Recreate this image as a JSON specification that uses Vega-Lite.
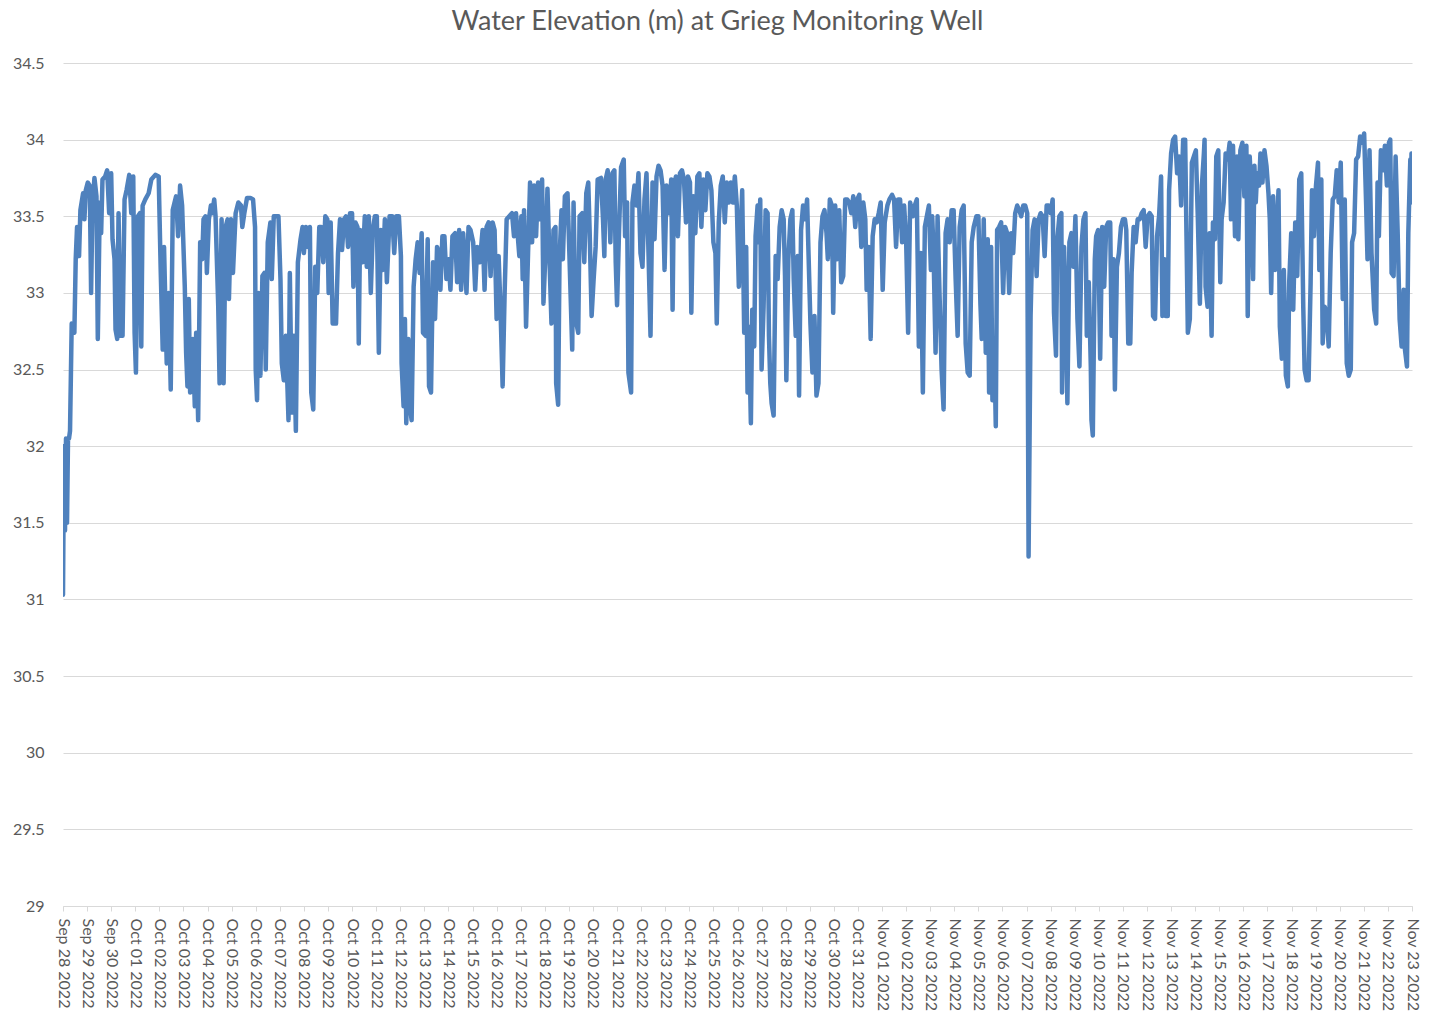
{
"$schema":"https://vega.github.io/schema/vega-lite/v6.json",
"autosize":{"type":"none"},
"padding":{"left":63,"top":63,"right":20,"bottom":107},
"width":1349,"height":843,
"background":"white",
"config":{"view":{"stroke":null},"font":"Lato"},
"title":{"text":"Water Elevation (m) at Grieg Monitoring Well","fontSize":27,"font":"Lato","fontWeight":"normal","color":"#595959","anchor":"middle","offset":19,"dx":-20},
"data":{"values":[
{"t":"2022-09-28T00:00","v":31.03},{"t":"2022-09-28T01:00","v":32.0},{"t":"2022-09-28T02:00","v":31.45},{"t":"2022-09-28T03:00","v":32.05},{"t":"2022-09-28T04:00","v":31.5},{"t":"2022-09-28T05:00","v":32.05},{"t":"2022-09-28T06:00","v":32.05},{"t":"2022-09-28T07:00","v":32.1},{"t":"2022-09-28T08:40","v":32.8},{"t":"2022-09-28T11:20","v":32.74},{"t":"2022-09-28T12:40","v":33.22},{"t":"2022-09-28T14:00","v":33.43},{"t":"2022-09-28T16:00","v":33.24},{"t":"2022-09-28T17:20","v":33.54},{"t":"2022-09-28T20:00","v":33.65},{"t":"2022-09-28T21:20","v":33.48},{"t":"2022-09-28T22:40","v":33.67},
{"t":"2022-09-29T00:40","v":33.72},{"t":"2022-09-29T02:40","v":33.7},{"t":"2022-09-29T04:00","v":33.0},{"t":"2022-09-29T05:20","v":33.57},{"t":"2022-09-29T07:20","v":33.75},{"t":"2022-09-29T09:20","v":33.63},{"t":"2022-09-29T10:40","v":32.7},{"t":"2022-09-29T12:40","v":33.59},{"t":"2022-09-29T14:00","v":33.39},{"t":"2022-09-29T15:20","v":33.74},{"t":"2022-09-29T18:00","v":33.76},{"t":"2022-09-29T20:00","v":33.8},{"t":"2022-09-29T22:00","v":33.52},
{"t":"2022-09-30T00:00","v":33.78},{"t":"2022-09-30T01:20","v":33.35},{"t":"2022-09-30T03:20","v":33.22},{"t":"2022-09-30T04:20","v":32.76},{"t":"2022-09-30T06:00","v":32.7},{"t":"2022-09-30T07:20","v":33.52},{"t":"2022-09-30T09:20","v":32.72},{"t":"2022-09-30T11:20","v":32.72},{"t":"2022-09-30T13:20","v":33.61},{"t":"2022-09-30T15:20","v":33.67},{"t":"2022-09-30T18:00","v":33.77},{"t":"2022-09-30T20:00","v":33.52},{"t":"2022-09-30T22:00","v":33.76},{"t":"2022-09-30T23:20","v":32.74},
{"t":"2022-10-01T00:40","v":32.48},{"t":"2022-10-01T02:40","v":33.5},{"t":"2022-10-01T04:40","v":33.52},{"t":"2022-10-01T06:00","v":32.65},{"t":"2022-10-01T07:20","v":33.57},{"t":"2022-10-01T10:00","v":33.61},{"t":"2022-10-01T13:20","v":33.65},{"t":"2022-10-01T16:00","v":33.74},{"t":"2022-10-01T20:00","v":33.77},{"t":"2022-10-01T23:20","v":33.76},
{"t":"2022-10-02T01:20","v":33.15},{"t":"2022-10-02T03:20","v":32.63},{"t":"2022-10-02T04:40","v":33.3},{"t":"2022-10-02T07:20","v":32.54},{"t":"2022-10-02T09:20","v":33.0},{"t":"2022-10-02T11:20","v":32.37},{"t":"2022-10-02T13:20","v":33.54},{"t":"2022-10-02T16:40","v":33.63},{"t":"2022-10-02T18:40","v":33.37},{"t":"2022-10-02T20:40","v":33.7},{"t":"2022-10-02T22:40","v":33.57},
{"t":"2022-10-03T01:20","v":33.04},{"t":"2022-10-03T02:40","v":32.61},{"t":"2022-10-03T04:00","v":32.39},{"t":"2022-10-03T05:20","v":32.96},{"t":"2022-10-03T06:40","v":32.35},{"t":"2022-10-03T09:20","v":32.7},{"t":"2022-10-03T11:20","v":32.26},{"t":"2022-10-03T12:40","v":32.74},{"t":"2022-10-03T14:40","v":32.17},{"t":"2022-10-03T16:40","v":33.33},{"t":"2022-10-03T18:40","v":33.22},{"t":"2022-10-03T20:00","v":33.48},{"t":"2022-10-03T22:00","v":33.5},{"t":"2022-10-03T23:20","v":33.13},
{"t":"2022-10-04T01:20","v":33.48},{"t":"2022-10-04T03:20","v":33.57},{"t":"2022-10-04T04:40","v":33.52},{"t":"2022-10-04T06:40","v":33.61},{"t":"2022-10-04T08:00","v":33.5},{"t":"2022-10-04T10:40","v":32.91},{"t":"2022-10-04T12:00","v":32.41},{"t":"2022-10-04T14:00","v":33.48},{"t":"2022-10-04T16:00","v":32.41},{"t":"2022-10-04T18:00","v":33.43},{"t":"2022-10-04T20:00","v":33.48},{"t":"2022-10-04T21:20","v":32.96},{"t":"2022-10-04T23:20","v":33.48},
{"t":"2022-10-05T01:20","v":33.13},{"t":"2022-10-05T04:00","v":33.52},{"t":"2022-10-05T06:40","v":33.59},{"t":"2022-10-05T09:20","v":33.57},{"t":"2022-10-05T10:40","v":33.43},{"t":"2022-10-05T12:40","v":33.52},{"t":"2022-10-05T15:20","v":33.62},{"t":"2022-10-05T18:40","v":33.62},{"t":"2022-10-05T21:20","v":33.61},{"t":"2022-10-05T23:20","v":33.43},
{"t":"2022-10-06T00:00","v":32.5},{"t":"2022-10-06T01:20","v":32.3},{"t":"2022-10-06T02:40","v":33.0},{"t":"2022-10-06T04:40","v":32.46},{"t":"2022-10-06T06:40","v":33.11},{"t":"2022-10-06T08:40","v":33.13},{"t":"2022-10-06T10:00","v":32.5},{"t":"2022-10-06T12:00","v":33.33},{"t":"2022-10-06T14:40","v":33.46},{"t":"2022-10-06T16:00","v":33.09},{"t":"2022-10-06T18:00","v":33.5},{"t":"2022-10-06T20:00","v":33.5},{"t":"2022-10-06T22:40","v":33.5},
{"t":"2022-10-07T00:40","v":33.09},{"t":"2022-10-07T02:00","v":32.54},{"t":"2022-10-07T04:00","v":32.43},{"t":"2022-10-07T06:00","v":32.72},{"t":"2022-10-07T08:40","v":32.17},{"t":"2022-10-07T10:00","v":33.13},{"t":"2022-10-07T12:00","v":32.22},{"t":"2022-10-07T14:00","v":32.72},{"t":"2022-10-07T16:00","v":32.1},{"t":"2022-10-07T18:00","v":33.2},{"t":"2022-10-07T20:40","v":33.35},{"t":"2022-10-07T22:40","v":33.43},
{"t":"2022-10-08T00:00","v":33.26},{"t":"2022-10-08T02:00","v":33.43},{"t":"2022-10-08T04:00","v":33.3},{"t":"2022-10-08T06:00","v":33.43},{"t":"2022-10-08T07:20","v":32.35},{"t":"2022-10-08T09:20","v":32.24},{"t":"2022-10-08T11:20","v":33.17},{"t":"2022-10-08T13:20","v":33.0},{"t":"2022-10-08T15:20","v":33.43},{"t":"2022-10-08T17:20","v":33.43},{"t":"2022-10-08T19:20","v":33.2},{"t":"2022-10-08T21:20","v":33.5},{"t":"2022-10-08T23:20","v":33.48},
{"t":"2022-10-09T00:40","v":33.0},{"t":"2022-10-09T02:40","v":33.46},{"t":"2022-10-09T04:40","v":32.8},{"t":"2022-10-09T08:00","v":32.8},{"t":"2022-10-09T10:00","v":33.26},{"t":"2022-10-09T12:00","v":33.48},{"t":"2022-10-09T14:00","v":33.28},{"t":"2022-10-09T16:00","v":33.48},{"t":"2022-10-09T18:00","v":33.5},{"t":"2022-10-09T20:00","v":33.3},{"t":"2022-10-09T22:00","v":33.52},
{"t":"2022-10-10T00:00","v":33.52},{"t":"2022-10-10T01:20","v":33.04},{"t":"2022-10-10T03:20","v":33.46},{"t":"2022-10-10T05:20","v":33.43},{"t":"2022-10-10T06:40","v":32.67},{"t":"2022-10-10T08:00","v":33.41},{"t":"2022-10-10T10:40","v":33.2},{"t":"2022-10-10T12:40","v":33.5},{"t":"2022-10-10T14:40","v":33.17},{"t":"2022-10-10T16:40","v":33.5},{"t":"2022-10-10T18:40","v":33.0},{"t":"2022-10-10T20:40","v":33.41},{"t":"2022-10-10T22:40","v":33.5},
{"t":"2022-10-11T00:40","v":33.5},{"t":"2022-10-11T02:40","v":32.61},{"t":"2022-10-11T04:40","v":33.41},{"t":"2022-10-11T06:40","v":33.15},{"t":"2022-10-11T08:40","v":33.48},{"t":"2022-10-11T10:40","v":33.07},{"t":"2022-10-11T13:20","v":33.5},{"t":"2022-10-11T16:00","v":33.5},{"t":"2022-10-11T18:00","v":33.26},{"t":"2022-10-11T20:00","v":33.5},{"t":"2022-10-11T22:40","v":33.5},
{"t":"2022-10-12T00:40","v":33.24},{"t":"2022-10-12T01:20","v":32.54},{"t":"2022-10-12T03:20","v":32.26},{"t":"2022-10-12T04:40","v":32.83},{"t":"2022-10-12T06:00","v":32.15},{"t":"2022-10-12T08:00","v":32.7},{"t":"2022-10-12T09:20","v":32.28},{"t":"2022-10-12T11:20","v":32.17},{"t":"2022-10-12T13:20","v":33.04},{"t":"2022-10-12T15:20","v":33.22},{"t":"2022-10-12T17:20","v":33.33},{"t":"2022-10-12T19:20","v":33.13},{"t":"2022-10-12T21:20","v":33.39},{"t":"2022-10-12T22:40","v":32.74},
{"t":"2022-10-13T01:20","v":32.72},{"t":"2022-10-13T03:20","v":33.35},{"t":"2022-10-13T04:40","v":32.39},{"t":"2022-10-13T06:40","v":32.35},{"t":"2022-10-13T08:40","v":33.2},{"t":"2022-10-13T10:40","v":32.83},{"t":"2022-10-13T12:40","v":33.3},{"t":"2022-10-13T14:40","v":33.26},{"t":"2022-10-13T16:00","v":33.02},{"t":"2022-10-13T18:00","v":33.37},{"t":"2022-10-13T20:00","v":33.37},{"t":"2022-10-13T22:00","v":33.09},
{"t":"2022-10-14T00:00","v":33.22},{"t":"2022-10-14T02:00","v":33.02},{"t":"2022-10-14T04:00","v":33.37},{"t":"2022-10-14T06:40","v":33.39},{"t":"2022-10-14T08:40","v":33.07},{"t":"2022-10-14T10:40","v":33.41},{"t":"2022-10-14T12:40","v":33.02},{"t":"2022-10-14T14:40","v":33.39},{"t":"2022-10-14T16:40","v":33.17},{"t":"2022-10-14T18:00","v":33.0},{"t":"2022-10-14T20:00","v":33.43},{"t":"2022-10-14T22:00","v":33.41},
{"t":"2022-10-15T00:40","v":33.33},{"t":"2022-10-15T02:40","v":33.02},{"t":"2022-10-15T04:40","v":33.3},{"t":"2022-10-15T07:20","v":33.2},{"t":"2022-10-15T10:00","v":33.41},{"t":"2022-10-15T12:00","v":33.02},{"t":"2022-10-15T14:00","v":33.43},{"t":"2022-10-15T16:00","v":33.46},{"t":"2022-10-15T18:00","v":33.11},{"t":"2022-10-15T20:00","v":33.46},{"t":"2022-10-15T22:00","v":33.41},
{"t":"2022-10-16T00:00","v":32.83},{"t":"2022-10-16T02:00","v":33.24},{"t":"2022-10-16T04:00","v":32.87},{"t":"2022-10-16T06:00","v":32.39},{"t":"2022-10-16T08:00","v":33.0},{"t":"2022-10-16T10:00","v":33.48},{"t":"2022-10-16T12:40","v":33.5},{"t":"2022-10-16T15:20","v":33.52},{"t":"2022-10-16T17:20","v":33.37},{"t":"2022-10-16T19:20","v":33.52},{"t":"2022-10-16T22:40","v":33.24},
{"t":"2022-10-17T00:40","v":33.5},{"t":"2022-10-17T02:00","v":33.09},{"t":"2022-10-17T03:20","v":33.54},{"t":"2022-10-17T05:20","v":32.78},{"t":"2022-10-17T07:20","v":33.26},{"t":"2022-10-17T09:20","v":33.72},{"t":"2022-10-17T11:20","v":33.33},{"t":"2022-10-17T13:20","v":33.7},{"t":"2022-10-17T15:20","v":33.37},{"t":"2022-10-17T17:20","v":33.72},{"t":"2022-10-17T19:20","v":33.48},{"t":"2022-10-17T21:20","v":33.74},{"t":"2022-10-17T22:40","v":32.93},
{"t":"2022-10-18T00:40","v":33.26},{"t":"2022-10-18T02:40","v":33.68},{"t":"2022-10-18T04:40","v":33.22},{"t":"2022-10-18T06:40","v":32.8},{"t":"2022-10-18T08:40","v":33.41},{"t":"2022-10-18T10:40","v":33.43},{"t":"2022-10-18T11:20","v":32.41},{"t":"2022-10-18T13:20","v":32.27},{"t":"2022-10-18T14:40","v":33.22},{"t":"2022-10-18T16:40","v":33.54},{"t":"2022-10-18T18:00","v":33.22},{"t":"2022-10-18T20:00","v":33.63},{"t":"2022-10-18T22:40","v":33.65},
{"t":"2022-10-19T00:40","v":33.22},{"t":"2022-10-19T03:20","v":32.63},{"t":"2022-10-19T04:40","v":33.59},{"t":"2022-10-19T06:40","v":32.83},{"t":"2022-10-19T09:20","v":32.74},{"t":"2022-10-19T10:40","v":33.5},{"t":"2022-10-19T13:20","v":33.52},{"t":"2022-10-19T15:20","v":33.2},{"t":"2022-10-19T17:20","v":33.65},{"t":"2022-10-19T19:20","v":33.72},{"t":"2022-10-19T20:40","v":33.41},{"t":"2022-10-19T22:40","v":32.85},
{"t":"2022-10-20T00:40","v":33.09},{"t":"2022-10-20T02:40","v":33.3},{"t":"2022-10-20T04:40","v":33.74},{"t":"2022-10-20T08:00","v":33.75},{"t":"2022-10-20T10:00","v":33.48},{"t":"2022-10-20T11:20","v":33.24},{"t":"2022-10-20T12:40","v":33.74},{"t":"2022-10-20T14:40","v":33.8},{"t":"2022-10-20T17:20","v":33.33},{"t":"2022-10-20T19:20","v":33.78},{"t":"2022-10-20T21:20","v":33.8},{"t":"2022-10-20T22:40","v":33.2},
{"t":"2022-10-21T00:00","v":32.92},{"t":"2022-10-21T02:00","v":33.41},{"t":"2022-10-21T04:00","v":33.82},{"t":"2022-10-21T06:40","v":33.87},{"t":"2022-10-21T08:00","v":33.37},{"t":"2022-10-21T10:00","v":33.59},{"t":"2022-10-21T11:20","v":32.48},{"t":"2022-10-21T14:00","v":32.35},{"t":"2022-10-21T15:20","v":33.59},{"t":"2022-10-21T17:20","v":33.7},{"t":"2022-10-21T19:20","v":33.57},{"t":"2022-10-21T21:20","v":33.78},{"t":"2022-10-21T23:20","v":33.26},
{"t":"2022-10-22T01:20","v":33.17},{"t":"2022-10-22T03:20","v":33.61},{"t":"2022-10-22T05:20","v":33.78},{"t":"2022-10-22T07:20","v":33.26},{"t":"2022-10-22T09:20","v":32.72},{"t":"2022-10-22T11:20","v":33.72},{"t":"2022-10-22T13:20","v":33.35},{"t":"2022-10-22T15:20","v":33.76},{"t":"2022-10-22T17:20","v":33.83},{"t":"2022-10-22T19:20","v":33.8},{"t":"2022-10-22T21:20","v":33.7},{"t":"2022-10-22T23:20","v":33.15},
{"t":"2022-10-23T01:20","v":33.7},{"t":"2022-10-23T04:00","v":33.52},{"t":"2022-10-23T06:00","v":33.74},{"t":"2022-10-23T07:20","v":32.89},{"t":"2022-10-23T08:40","v":33.7},{"t":"2022-10-23T10:40","v":33.76},{"t":"2022-10-23T12:40","v":33.37},{"t":"2022-10-23T14:40","v":33.78},{"t":"2022-10-23T16:40","v":33.8},{"t":"2022-10-23T18:40","v":33.74},{"t":"2022-10-23T20:40","v":33.46},{"t":"2022-10-23T22:40","v":33.76},
{"t":"2022-10-24T00:40","v":33.72},{"t":"2022-10-24T02:00","v":32.87},{"t":"2022-10-24T04:00","v":33.63},{"t":"2022-10-24T06:00","v":33.39},{"t":"2022-10-24T08:00","v":33.76},{"t":"2022-10-24T10:00","v":33.78},{"t":"2022-10-24T12:00","v":33.43},{"t":"2022-10-24T14:00","v":33.74},{"t":"2022-10-24T16:00","v":33.54},{"t":"2022-10-24T18:00","v":33.78},{"t":"2022-10-24T20:00","v":33.76},{"t":"2022-10-24T22:00","v":33.67},
{"t":"2022-10-25T00:00","v":33.33},{"t":"2022-10-25T02:00","v":33.26},{"t":"2022-10-25T03:20","v":32.8},{"t":"2022-10-25T05:20","v":33.46},{"t":"2022-10-25T07:20","v":33.7},{"t":"2022-10-25T09:20","v":33.76},{"t":"2022-10-25T11:20","v":33.46},{"t":"2022-10-25T13:20","v":33.72},{"t":"2022-10-25T15:20","v":33.59},{"t":"2022-10-25T17:20","v":33.72},{"t":"2022-10-25T19:20","v":33.59},{"t":"2022-10-25T21:20","v":33.76},{"t":"2022-10-25T23:20","v":33.57},
{"t":"2022-10-26T01:20","v":33.04},{"t":"2022-10-26T02:40","v":33.3},{"t":"2022-10-26T04:40","v":33.67},{"t":"2022-10-26T06:40","v":32.74},{"t":"2022-10-26T08:40","v":33.3},{"t":"2022-10-26T10:00","v":32.35},{"t":"2022-10-26T11:20","v":32.78},{"t":"2022-10-26T13:20","v":32.15},{"t":"2022-10-26T14:40","v":32.89},{"t":"2022-10-26T16:40","v":32.65},{"t":"2022-10-26T18:00","v":33.37},{"t":"2022-10-26T20:00","v":33.57},{"t":"2022-10-26T21:20","v":33.33},{"t":"2022-10-26T22:40","v":33.61},
{"t":"2022-10-27T00:00","v":32.5},{"t":"2022-10-27T02:00","v":32.91},{"t":"2022-10-27T04:00","v":33.54},{"t":"2022-10-27T06:00","v":33.52},{"t":"2022-10-27T07:20","v":32.72},{"t":"2022-10-27T08:40","v":32.41},{"t":"2022-10-27T10:00","v":32.28},{"t":"2022-10-27T12:00","v":32.2},{"t":"2022-10-27T14:00","v":33.24},{"t":"2022-10-27T16:00","v":33.09},{"t":"2022-10-27T18:00","v":33.43},{"t":"2022-10-27T20:00","v":33.54},{"t":"2022-10-27T22:00","v":33.48},{"t":"2022-10-27T23:20","v":33.11},
{"t":"2022-10-28T00:40","v":32.43},{"t":"2022-10-28T02:40","v":33.22},{"t":"2022-10-28T04:40","v":33.48},{"t":"2022-10-28T06:40","v":33.54},{"t":"2022-10-28T08:00","v":33.09},{"t":"2022-10-28T10:00","v":32.72},{"t":"2022-10-28T12:00","v":33.24},{"t":"2022-10-28T13:20","v":32.33},{"t":"2022-10-28T15:20","v":33.41},{"t":"2022-10-28T17:20","v":33.57},{"t":"2022-10-28T19:20","v":33.48},{"t":"2022-10-28T21:20","v":33.61},{"t":"2022-10-28T22:40","v":33.28},
{"t":"2022-10-29T00:40","v":32.8},{"t":"2022-10-29T02:40","v":32.48},{"t":"2022-10-29T04:40","v":32.85},{"t":"2022-10-29T06:40","v":32.33},{"t":"2022-10-29T08:40","v":32.41},{"t":"2022-10-29T10:40","v":33.33},{"t":"2022-10-29T12:40","v":33.5},{"t":"2022-10-29T14:40","v":33.54},{"t":"2022-10-29T16:40","v":33.39},{"t":"2022-10-29T18:00","v":33.22},{"t":"2022-10-29T20:00","v":33.61},{"t":"2022-10-29T22:00","v":33.57},{"t":"2022-10-29T23:20","v":32.87},
{"t":"2022-10-30T01:20","v":33.57},{"t":"2022-10-30T03:20","v":33.22},{"t":"2022-10-30T05:20","v":33.54},{"t":"2022-10-30T07:20","v":33.07},{"t":"2022-10-30T09:20","v":33.11},{"t":"2022-10-30T11:20","v":33.61},{"t":"2022-10-30T13:20","v":33.61},{"t":"2022-10-30T15:20","v":33.59},{"t":"2022-10-30T17:20","v":33.52},{"t":"2022-10-30T19:20","v":33.63},{"t":"2022-10-30T21:20","v":33.43},{"t":"2022-10-30T23:20","v":33.61},
{"t":"2022-10-31T01:20","v":33.64},{"t":"2022-10-31T03:20","v":33.3},{"t":"2022-10-31T05:20","v":33.59},{"t":"2022-10-31T07:20","v":33.48},{"t":"2022-10-31T08:40","v":33.02},{"t":"2022-10-31T10:40","v":33.3},{"t":"2022-10-31T12:40","v":32.7},{"t":"2022-10-31T14:40","v":33.37},{"t":"2022-10-31T16:40","v":33.48},{"t":"2022-10-31T18:40","v":33.46},{"t":"2022-10-31T20:40","v":33.52},{"t":"2022-10-31T22:40","v":33.59},
{"t":"2022-11-01T00:40","v":33.02},{"t":"2022-11-01T02:40","v":33.46},{"t":"2022-11-01T05:20","v":33.57},{"t":"2022-11-01T07:20","v":33.61},{"t":"2022-11-01T10:00","v":33.64},{"t":"2022-11-01T12:00","v":33.61},{"t":"2022-11-01T14:00","v":33.3},{"t":"2022-11-01T16:00","v":33.61},{"t":"2022-11-01T18:00","v":33.61},{"t":"2022-11-01T20:00","v":33.33},{"t":"2022-11-01T22:00","v":33.57},
{"t":"2022-11-02T00:00","v":33.35},{"t":"2022-11-02T02:00","v":32.74},{"t":"2022-11-02T04:00","v":33.59},{"t":"2022-11-02T06:40","v":33.5},{"t":"2022-11-02T08:40","v":33.57},{"t":"2022-11-02T10:40","v":33.61},{"t":"2022-11-02T12:40","v":32.65},{"t":"2022-11-02T14:40","v":33.26},{"t":"2022-11-02T16:40","v":32.35},{"t":"2022-11-02T18:40","v":33.43},{"t":"2022-11-02T20:40","v":33.5},{"t":"2022-11-02T22:40","v":33.57},
{"t":"2022-11-03T00:40","v":33.15},{"t":"2022-11-03T02:00","v":33.5},{"t":"2022-11-03T03:20","v":33.26},{"t":"2022-11-03T05:20","v":32.61},{"t":"2022-11-03T07:20","v":33.5},{"t":"2022-11-03T09:20","v":32.98},{"t":"2022-11-03T11:20","v":32.5},{"t":"2022-11-03T13:20","v":32.24},{"t":"2022-11-03T15:20","v":33.39},{"t":"2022-11-03T17:20","v":33.48},{"t":"2022-11-03T19:20","v":33.33},{"t":"2022-11-03T21:20","v":33.54},{"t":"2022-11-03T23:20","v":33.54},
{"t":"2022-11-04T01:20","v":33.09},{"t":"2022-11-04T03:20","v":32.72},{"t":"2022-11-04T05:20","v":33.43},{"t":"2022-11-04T07:20","v":33.54},{"t":"2022-11-04T09:20","v":33.57},{"t":"2022-11-04T11:20","v":32.67},{"t":"2022-11-04T13:20","v":32.48},{"t":"2022-11-04T15:20","v":32.46},{"t":"2022-11-04T17:20","v":33.33},{"t":"2022-11-04T19:20","v":33.43},{"t":"2022-11-04T22:00","v":33.5},
{"t":"2022-11-05T00:00","v":33.5},{"t":"2022-11-05T02:00","v":32.93},{"t":"2022-11-05T03:20","v":32.7},{"t":"2022-11-05T05:20","v":33.48},{"t":"2022-11-05T07:20","v":32.61},{"t":"2022-11-05T09:20","v":33.35},{"t":"2022-11-05T10:40","v":32.35},{"t":"2022-11-05T12:40","v":33.3},{"t":"2022-11-05T14:00","v":32.3},{"t":"2022-11-05T16:00","v":32.61},{"t":"2022-11-05T17:20","v":32.13},{"t":"2022-11-05T18:40","v":33.41},{"t":"2022-11-05T20:40","v":33.43},{"t":"2022-11-05T22:40","v":33.46},
{"t":"2022-11-06T00:40","v":33.0},{"t":"2022-11-06T02:40","v":33.43},{"t":"2022-11-06T04:40","v":33.39},{"t":"2022-11-06T06:40","v":33.0},{"t":"2022-11-06T08:40","v":33.39},{"t":"2022-11-06T10:40","v":33.26},{"t":"2022-11-06T12:40","v":33.52},{"t":"2022-11-06T14:40","v":33.57},{"t":"2022-11-06T16:40","v":33.54},{"t":"2022-11-06T18:40","v":33.5},{"t":"2022-11-06T20:40","v":33.57},{"t":"2022-11-06T22:40","v":33.57},
{"t":"2022-11-07T00:40","v":33.52},{"t":"2022-11-07T02:00","v":31.28},{"t":"2022-11-07T04:00","v":32.85},{"t":"2022-11-07T06:00","v":33.41},{"t":"2022-11-07T08:00","v":33.48},{"t":"2022-11-07T10:00","v":33.11},{"t":"2022-11-07T12:00","v":33.48},{"t":"2022-11-07T14:00","v":33.52},{"t":"2022-11-07T16:00","v":33.5},{"t":"2022-11-07T18:00","v":33.24},{"t":"2022-11-07T20:00","v":33.57},{"t":"2022-11-07T22:00","v":33.57},
{"t":"2022-11-08T00:00","v":33.52},{"t":"2022-11-08T02:00","v":33.61},{"t":"2022-11-08T03:20","v":32.87},{"t":"2022-11-08T05:20","v":32.59},{"t":"2022-11-08T06:40","v":33.35},{"t":"2022-11-08T08:40","v":33.5},{"t":"2022-11-08T10:40","v":33.52},{"t":"2022-11-08T11:20","v":32.35},{"t":"2022-11-08T13:20","v":33.3},{"t":"2022-11-08T15:20","v":32.83},{"t":"2022-11-08T16:40","v":32.28},{"t":"2022-11-08T18:40","v":33.33},{"t":"2022-11-08T20:40","v":33.39},{"t":"2022-11-08T22:40","v":33.17},
{"t":"2022-11-09T00:40","v":33.5},{"t":"2022-11-09T02:40","v":32.83},{"t":"2022-11-09T04:40","v":32.52},{"t":"2022-11-09T06:40","v":33.3},{"t":"2022-11-09T08:40","v":33.48},{"t":"2022-11-09T10:40","v":33.52},{"t":"2022-11-09T12:00","v":32.72},{"t":"2022-11-09T14:00","v":33.07},{"t":"2022-11-09T16:00","v":32.52},{"t":"2022-11-09T16:40","v":32.17},{"t":"2022-11-09T18:00","v":32.07},{"t":"2022-11-09T20:00","v":33.22},{"t":"2022-11-09T21:20","v":33.37},{"t":"2022-11-09T23:20","v":33.41},
{"t":"2022-11-10T01:20","v":32.57},{"t":"2022-11-10T03:20","v":33.43},{"t":"2022-11-10T05:20","v":33.04},{"t":"2022-11-10T07:20","v":33.43},{"t":"2022-11-10T09:20","v":33.46},{"t":"2022-11-10T11:20","v":33.46},{"t":"2022-11-10T12:40","v":32.72},{"t":"2022-11-10T14:40","v":33.22},{"t":"2022-11-10T16:00","v":32.37},{"t":"2022-11-10T18:00","v":33.17},{"t":"2022-11-10T20:00","v":33.26},{"t":"2022-11-10T22:00","v":33.43},
{"t":"2022-11-11T00:00","v":33.48},{"t":"2022-11-11T02:00","v":33.48},{"t":"2022-11-11T03:20","v":33.41},{"t":"2022-11-11T05:20","v":32.67},{"t":"2022-11-11T07:20","v":32.67},{"t":"2022-11-11T08:40","v":33.13},{"t":"2022-11-11T10:40","v":33.43},{"t":"2022-11-11T12:40","v":33.33},{"t":"2022-11-11T14:40","v":33.48},{"t":"2022-11-11T16:40","v":33.48},{"t":"2022-11-11T18:40","v":33.52},{"t":"2022-11-11T20:40","v":33.54},{"t":"2022-11-11T22:40","v":33.3},
{"t":"2022-11-12T00:40","v":33.5},{"t":"2022-11-12T02:40","v":33.52},{"t":"2022-11-12T04:40","v":33.5},{"t":"2022-11-12T06:00","v":32.85},{"t":"2022-11-12T08:00","v":32.83},{"t":"2022-11-12T10:00","v":33.37},{"t":"2022-11-12T12:00","v":33.5},{"t":"2022-11-12T14:00","v":33.76},{"t":"2022-11-12T15:20","v":32.85},{"t":"2022-11-12T17:20","v":33.22},{"t":"2022-11-12T18:40","v":32.85},{"t":"2022-11-12T20:40","v":32.85},{"t":"2022-11-12T22:00","v":33.67},
{"t":"2022-11-13T00:00","v":33.91},{"t":"2022-11-13T02:00","v":34.0},{"t":"2022-11-13T04:00","v":34.02},{"t":"2022-11-13T06:00","v":33.78},{"t":"2022-11-13T08:00","v":33.89},{"t":"2022-11-13T10:00","v":33.57},{"t":"2022-11-13T12:00","v":34.0},{"t":"2022-11-13T14:00","v":34.0},{"t":"2022-11-13T15:20","v":33.37},{"t":"2022-11-13T16:40","v":32.74},{"t":"2022-11-13T18:40","v":32.83},{"t":"2022-11-13T20:40","v":33.85},{"t":"2022-11-13T22:40","v":33.89},
{"t":"2022-11-14T00:40","v":33.93},{"t":"2022-11-14T02:40","v":33.48},{"t":"2022-11-14T04:40","v":32.93},{"t":"2022-11-14T06:40","v":33.7},{"t":"2022-11-14T08:40","v":33.91},{"t":"2022-11-14T09:20","v":34.0},{"t":"2022-11-14T10:20","v":33.04},{"t":"2022-11-14T12:20","v":32.91},{"t":"2022-11-14T14:20","v":33.39},{"t":"2022-11-14T16:20","v":32.72},{"t":"2022-11-14T17:40","v":33.46},{"t":"2022-11-14T19:40","v":33.35},{"t":"2022-11-14T21:00","v":33.89},{"t":"2022-11-14T23:00","v":33.93},
{"t":"2022-11-15T01:00","v":33.07},{"t":"2022-11-15T02:20","v":33.48},{"t":"2022-11-15T04:20","v":33.59},{"t":"2022-11-15T06:20","v":33.91},{"t":"2022-11-15T08:20","v":33.87},{"t":"2022-11-15T10:20","v":33.98},{"t":"2022-11-15T11:40","v":33.48},{"t":"2022-11-15T13:40","v":33.96},{"t":"2022-11-15T15:40","v":33.37},{"t":"2022-11-15T17:40","v":33.89},{"t":"2022-11-15T19:00","v":33.35},{"t":"2022-11-15T21:00","v":33.93},{"t":"2022-11-15T23:00","v":33.98},
{"t":"2022-11-16T01:00","v":33.63},{"t":"2022-11-16T03:00","v":33.96},{"t":"2022-11-16T04:20","v":32.85},{"t":"2022-11-16T06:20","v":33.89},{"t":"2022-11-16T08:20","v":33.59},{"t":"2022-11-16T09:40","v":33.09},{"t":"2022-11-16T11:00","v":33.83},{"t":"2022-11-16T12:20","v":33.59},{"t":"2022-11-16T13:40","v":33.78},{"t":"2022-11-16T15:40","v":33.7},{"t":"2022-11-16T17:00","v":33.91},{"t":"2022-11-16T19:00","v":33.72},{"t":"2022-11-16T21:00","v":33.93},{"t":"2022-11-16T23:00","v":33.83},
{"t":"2022-11-17T01:00","v":33.65},{"t":"2022-11-17T02:20","v":33.48},{"t":"2022-11-17T03:40","v":33.0},{"t":"2022-11-17T05:40","v":33.63},{"t":"2022-11-17T07:40","v":33.15},{"t":"2022-11-17T09:00","v":33.35},{"t":"2022-11-17T11:00","v":33.67},{"t":"2022-11-17T12:20","v":32.78},{"t":"2022-11-17T14:20","v":32.57},{"t":"2022-11-17T16:20","v":33.15},{"t":"2022-11-17T18:20","v":32.46},{"t":"2022-11-17T20:20","v":32.39},{"t":"2022-11-17T21:40","v":33.07},{"t":"2022-11-17T23:40","v":33.39},
{"t":"2022-11-18T01:40","v":32.89},{"t":"2022-11-18T03:40","v":33.46},{"t":"2022-11-18T05:40","v":33.11},{"t":"2022-11-18T07:40","v":33.74},{"t":"2022-11-18T09:40","v":33.78},{"t":"2022-11-18T11:40","v":32.91},{"t":"2022-11-18T13:00","v":32.5},{"t":"2022-11-18T15:00","v":32.43},{"t":"2022-11-18T17:00","v":32.43},{"t":"2022-11-18T19:00","v":33.07},{"t":"2022-11-18T20:20","v":33.67},{"t":"2022-11-18T22:20","v":33.37},
{"t":"2022-11-19T00:20","v":33.7},{"t":"2022-11-19T02:20","v":33.85},{"t":"2022-11-19T03:40","v":33.15},{"t":"2022-11-19T05:40","v":33.74},{"t":"2022-11-19T07:00","v":32.67},{"t":"2022-11-19T09:00","v":32.91},{"t":"2022-11-19T11:00","v":32.87},{"t":"2022-11-19T13:00","v":32.65},{"t":"2022-11-19T15:00","v":33.26},{"t":"2022-11-19T17:00","v":33.61},{"t":"2022-11-19T19:00","v":33.63},{"t":"2022-11-19T21:00","v":33.8},{"t":"2022-11-19T23:00","v":33.59},
{"t":"2022-11-20T01:00","v":33.85},{"t":"2022-11-20T03:00","v":32.96},{"t":"2022-11-20T05:00","v":33.61},{"t":"2022-11-20T07:00","v":32.54},{"t":"2022-11-20T09:00","v":32.46},{"t":"2022-11-20T11:00","v":32.5},{"t":"2022-11-20T12:20","v":33.33},{"t":"2022-11-20T14:20","v":33.39},{"t":"2022-11-20T16:20","v":33.87},{"t":"2022-11-20T18:20","v":33.89},{"t":"2022-11-20T20:20","v":34.02},{"t":"2022-11-20T22:20","v":33.98},
{"t":"2022-11-21T00:20","v":34.04},{"t":"2022-11-21T02:20","v":33.57},{"t":"2022-11-21T03:40","v":33.22},{"t":"2022-11-21T05:40","v":33.93},{"t":"2022-11-21T07:40","v":33.26},{"t":"2022-11-21T10:20","v":32.89},{"t":"2022-11-21T12:20","v":32.8},{"t":"2022-11-21T13:40","v":33.72},{"t":"2022-11-21T15:00","v":33.37},{"t":"2022-11-21T17:00","v":33.93},{"t":"2022-11-21T19:00","v":33.8},{"t":"2022-11-21T21:00","v":33.96},{"t":"2022-11-21T23:00","v":33.7},
{"t":"2022-11-22T01:00","v":33.98},{"t":"2022-11-22T02:20","v":34.0},{"t":"2022-11-22T03:40","v":33.13},{"t":"2022-11-22T05:40","v":33.11},{"t":"2022-11-22T07:40","v":33.89},{"t":"2022-11-22T09:40","v":33.41},{"t":"2022-11-22T11:40","v":32.83},{"t":"2022-11-22T13:40","v":32.65},{"t":"2022-11-22T15:40","v":33.02},{"t":"2022-11-22T17:00","v":32.63},{"t":"2022-11-22T19:00","v":32.52},{"t":"2022-11-22T20:20","v":33.39},{"t":"2022-11-22T21:40","v":33.72},{"t":"2022-11-22T22:20","v":33.87},{"t":"2022-11-22T23:00","v":33.59},{"t":"2022-11-22T23:30","v":33.91},{"t":"2022-11-22T23:50","v":33.7}
]},
"mark":{"type":"line","color":"#4F81BD","strokeWidth":4.5,"strokeJoin":"round","strokeCap":"round","clip":true},
"encoding":{
"x":{"field":"t","type":"temporal","title":null,
"scale":{"domain":[{"year":2022,"month":9,"date":28},{"year":2022,"month":11,"date":23}]},
"axis":{"format":"%b %d %Y","labelAngle":90,"tickCount":{"interval":"day","step":1},"grid":false,"domainColor":"#d9d9d9","tickColor":"#d9d9d9","tickSize":5,"labelPadding":7,"labelFontSize":16,"labelFont":"Lato","labelColor":"#595959","labelOverlap":false,"labelFlush":false}},
"y":{"field":"v","type":"quantitative","title":null,
"scale":{"domain":[29,34.5],"nice":false,"zero":false},
"axis":{"values":[29,29.5,30,30.5,31,31.5,32,32.5,33,33.5,34,34.5],"format":".1~f","ticks":false,"domain":false,"gridColor":"#d9d9d9","gridWidth":1,"labelPadding":19,"labelFontSize":16,"labelFont":"Lato","labelColor":"#595959"}}
}
}
